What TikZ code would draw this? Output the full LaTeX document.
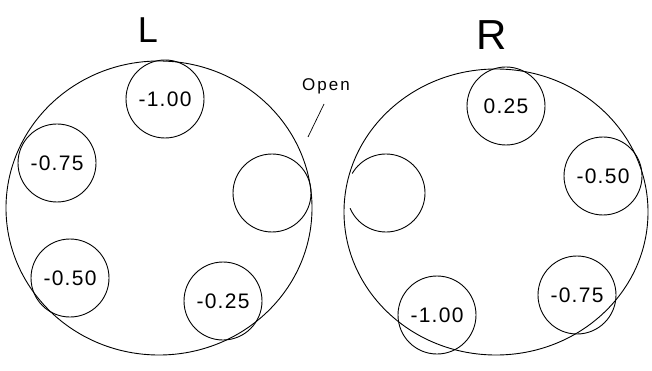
\documentclass[tikz,border=0pt]{standalone}
\usepackage{fontspec}
\setmainfont{Liberation Sans}
\usetikzlibrary{shapes.geometric}
\begin{document}
\begin{tikzpicture}[x=1pt,y=-1pt,
  bigc/.style={draw, ellipse, inner sep=0pt, line width=0.9pt},
  hole/.style={draw, circle, minimum size=78pt, inner sep=0pt, line width=0.9pt,
    font=\fontsize{21}{21}\selectfont\addfontfeature{LetterSpace=6}},
  title/.style={font=\fontsize{36}{36}\selectfont},
  lead/.style={line width=0.7pt}]
\useasboundingbox (0,0) rectangle (652,371);
% left wheel
\node[bigc, minimum width=306pt, minimum height=294pt] (Lbig) at (159,208) {};
\node[title] (Ltitle) at (148,30) {L};
\node[hole] (L100) at (165,99) {-1.00};
\node[hole] (L075) at (57,163) {-0.75};
\node[hole] (Lopen) at (272,193) {};
\node[hole] (L050) at (70,278) {-0.50};
\node[hole] (L025) at (223,301) {-0.25};
% right wheel
\node[bigc, minimum width=304pt, minimum height=286pt] (Rbig) at (496,212) {};
\node[title, font=\fontsize{42}{42}\selectfont] (Rtitle) at (492,35) {R};
\node[hole] (R025) at (506,106) {0.25};
\node[hole] (R050) at (603,176) {-0.50};
\node[hole] (R075) at (577,295) {-0.75};
\node[hole] (R100) at (437,315) {-1.00};
\coordinate (Ropen) at (386,193);
\draw[line width=0.9pt] (Ropen) ++(-157:39pt) arc[start angle=-157, end angle=150, radius=39pt];
% open label
\node[font=\fontsize{17}{17}\selectfont\addfontfeature{LetterSpace=12}] (Open) at (326,86) {Open};
\coordinate (o1) at (324,104);
\coordinate (o2) at (308,137);
\draw[lead] (o1) -- (o2);
\end{tikzpicture}
\end{document}
